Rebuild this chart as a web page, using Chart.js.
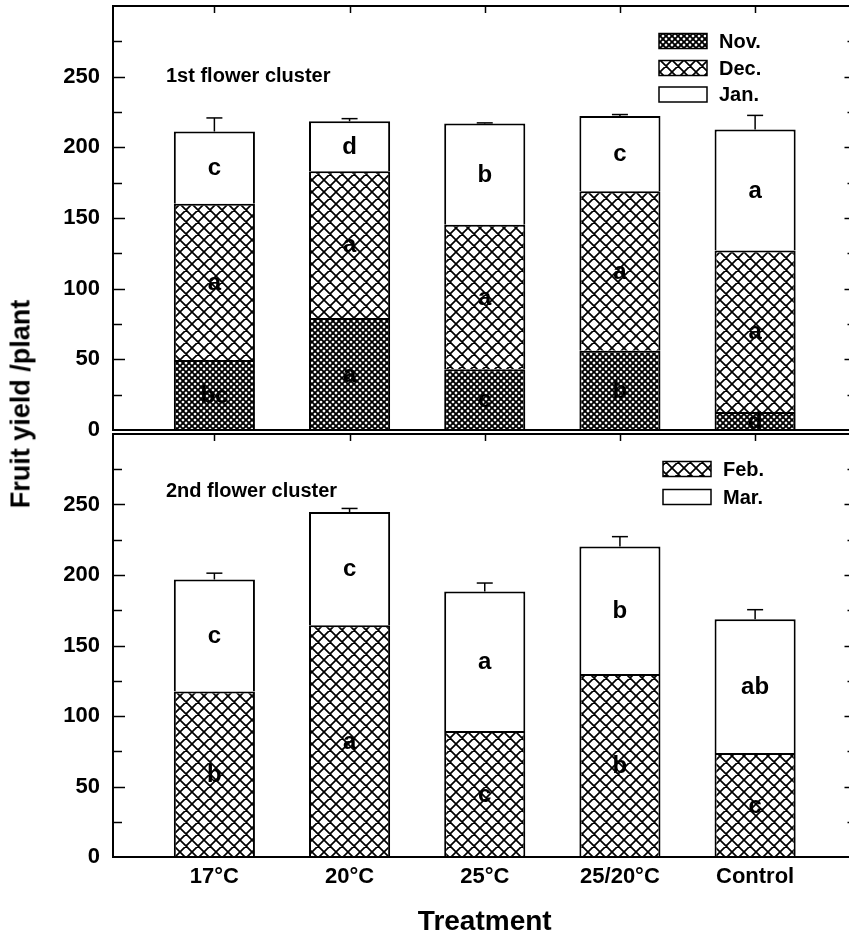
<!DOCTYPE html>
<html>
<head>
<meta charset="utf-8">
<script src="https://cdn.jsdelivr.net/npm/chart.js@4.4.0/dist/chart.umd.min.js"></script>
<style>
  html, body { margin: 0; padding: 0; background: #fff; overflow: hidden; }
  #wrap { position: relative; width: 849px; height: 935px; overflow: hidden; }
  #wrap canvas { position: absolute; left: 0; }
  #ytitle {
    position: absolute; left: 21px; top: 404px;
    transform: translate(-50%, -50%) rotate(-90deg);
    font: bold 27px "Liberation Sans", Arial, sans-serif;
    line-height: 1; white-space: nowrap;
  }
</style>
</head>
<body>
<div id="wrap">
  <canvas id="top" width="870" height="452" style="top:0"></canvas>
  <canvas id="bot" width="870" height="515" style="top:420px"></canvas>
  <div id="ytitle">Fruit yield /plant</div>
</div>
<script>
const treatments = ["17\u00B0C", "20\u00B0C", "25\u00B0C", "25/20\u00B0C", "Control"];

// 1st flower cluster
const nov = [49.5, 79.3, 43.0, 56.0, 12.7];
const dec = [110.5, 103.7, 102.3, 113.0, 114.3];
const jan = [51.2, 35.4, 71.5, 53.2, 85.6];
const err1 = [9.6, 1.9, 0.5, 1.0, 10.0];
const novLetters = ["bc", "a", "c", "b", "d"];
const decLetters = ["a", "a", "a", "a", "a"];
const janLetters = ["c", "d", "b", "c", "a"];

// 2nd flower cluster
const feb = [117.4, 164.3, 89.3, 129.8, 73.8];
const mar = [79.4, 80.4, 99.0, 90.4, 94.9];
const err2 = [4.5, 2.5, 6.0, 7.0, 6.7];
const febLetters = ["b", "a", "c", "b", "c"];
const marLetters = ["c", "c", "a", "b", "ab"];

const FONT = '"Liberation Sans", Arial, sans-serif';
Chart.defaults.font.family = FONT;
Chart.defaults.font.weight = "bold";
Chart.defaults.color = "#000";

// crosshatch fill
function hatch(p, lw) {
  const c = document.createElement("canvas");
  c.width = c.height = p;
  const g = c.getContext("2d");
  g.fillStyle = "#fff";
  g.fillRect(0, 0, p, p);
  g.strokeStyle = "#000";
  g.lineWidth = lw;
  g.beginPath();
  for (let k = -1; k <= 1; k++) {
    g.moveTo(k * p, 0); g.lineTo(k * p + p, p);
    g.moveTo(k * p + p, 0); g.lineTo(k * p, p);
  }
  g.stroke();
  return g.createPattern(c, "repeat");
}
const fineFill = hatch(6, 1.9);
const wideFill = hatch(12, 1.7);

function series(label, values, fill) {
  return {
    label,
    data: values.map((v, i) => ({ x: i, y: v })),
    backgroundColor: fill,
    borderColor: "#000",
    borderWidth: { left: 2, right: 2, top: 2, bottom: 0 },
    borderSkipped: false,
    barPercentage: 0.6,
    categoryPercentage: 1,
    grouped: false
  };
}

function decor(info) {
  return {
    id: "decor",
    afterDatasetsDraw(chart) {
      const { ctx, chartArea: a, scales: { x, y } } = chart;
      const line = (x1, y1, x2, y2) => { ctx.beginPath(); ctx.moveTo(x1, y1); ctx.lineTo(x2, y2); ctx.stroke(); };
      ctx.save();
      ctx.strokeStyle = "#000";
      ctx.fillStyle = "#000";

      // error bars
      ctx.lineWidth = 1.5;
      const totals = treatments.map((_, i) => info.stack.reduce((s, arr) => s + arr[i], 0));
      totals.forEach((t, i) => {
        const px = x.getPixelForValue(i);
        const y0 = y.getPixelForValue(t);
        const y1 = y.getPixelForValue(t + info.errors[i]);
        line(px, y0, px, y1);
        line(px - 8, y1, px + 8, y1);
      });

      // letters in segments
      ctx.font = "bold 24px " + FONT;
      ctx.textAlign = "center";
      ctx.textBaseline = "middle";
      info.letters.forEach((lets, d) => {
        chart.getDatasetMeta(d).data.forEach((el, i) => {
          ctx.fillText(lets[i], el.x, (el.y + el.base) / 2 + 1);
        });
      });

      // frame
      ctx.lineWidth = 2;
      ctx.strokeRect(a.left, a.top, a.right - a.left, a.bottom - a.top);

      // inward ticks
      ctx.lineWidth = 1.5;
      y.ticks.forEach(t => {
        if (t.value <= 0 || t.value >= 300) return;
        const py = Math.round(y.getPixelForValue(t.value)) + 0.5;
        const len = t.value % 50 === 0 ? 12 : 9;
        line(a.left, py, a.left + len, py);
        line(a.right, py, a.right - len, py);
      });
      x.ticks.forEach(t => {
        const px = Math.round(x.getPixelForValue(t.value)) + 0.5;
        line(px, a.top, px, a.top + 7);
      });

      // panel title
      ctx.textAlign = "left";
      ctx.textBaseline = "alphabetic";
      ctx.font = "bold 20px " + FONT;
      ctx.fillText(info.title, 166, info.titleY);

      // legend
      ctx.font = "bold 20px " + FONT;
      info.legend.forEach(item => {
        ctx.fillStyle = item.fill;
        ctx.fillRect(info.legendX, item.y - 7.5, 48, 15);
        ctx.lineWidth = 1.5;
        ctx.strokeRect(info.legendX, item.y - 7.5, 48, 15);
        ctx.fillStyle = "#000";
        ctx.textBaseline = "middle";
        ctx.fillText(item.label, info.legendX + 60, item.y + 1);
      });

      if (info.xTitle) {
        ctx.textAlign = "center";
        ctx.textBaseline = "alphabetic";
        ctx.font = "bold 28px " + FONT;
        ctx.fillText(info.xTitle, (a.left + a.right) / 2, info.xTitleY);
      }
      ctx.restore();
    }
  };
}

function yAxis() {
  return {
    min: 0,
    max: 300,
    stacked: true,
    grid: { display: false, drawTicks: false },
    border: { display: false },
    ticks: {
      stepSize: 25,
      autoSkip: false,
      padding: 13,
      font: { size: 22, weight: "bold" },
      callback: v => (v % 50 === 0 && v < 300) ? String(v) : ""
    },
    afterFit: s => { s.width = 113; s.paddingTop = 0; s.paddingBottom = 0; }
  };
}

function xAxis(show) {
  return {
    type: "linear",
    min: -0.75,
    max: 4.75,
    offset: false,
    display: show,
    grid: { display: false, drawTicks: false, offset: false },
    border: { display: false },
    afterBuildTicks: s => { s.ticks = treatments.map((_, i) => ({ value: i })); },
    ticks: {
      padding: 7,
      autoSkip: false,
      maxRotation: 0,
      font: { size: 22, weight: "bold" },
      callback: v => treatments[v]
    },
    afterFit: s => {
      if (show) s.height = 78;
      s.paddingLeft = 0; s.paddingRight = 0;
    }
  };
}

function baseOptions(show, padding) {
  return {
    responsive: false,
    animation: false,
    devicePixelRatio: 1,
    layout: { padding },
    plugins: { legend: { display: false }, tooltip: { enabled: false } },
    scales: { x: xAxis(show), y: yAxis() }
  };
}

new Chart(document.getElementById("top"), {
  type: "bar",
  data: {
    datasets: [
      series("Nov.", nov, fineFill),
      series("Dec.", dec, wideFill),
      series("Jan.", jan, "#fff")
    ]
  },
  options: baseOptions(false, { top: 6, bottom: 22, left: 0, right: 13.5 }),
  plugins: [decor({
    stack: [nov, dec, jan],
    errors: err1,
    letters: [novLetters, decLetters, janLetters],
    title: "1st flower cluster",
    titleY: 82,
    legendX: 659,
    legend: [
      { label: "Nov.", fill: fineFill, y: 41 },
      { label: "Dec.", fill: wideFill, y: 68 },
      { label: "Jan.", fill: "#fff", y: 94.5 }
    ]
  })]
});

new Chart(document.getElementById("bot"), {
  type: "bar",
  data: {
    datasets: [
      series("Feb.", feb, wideFill),
      series("Mar.", mar, "#fff")
    ]
  },
  options: baseOptions(true, { top: 14, bottom: 0, left: 0, right: 13.5 }),
  plugins: [decor({
    stack: [feb, mar],
    errors: err2,
    letters: [febLetters, marLetters],
    title: "2nd flower cluster",
    titleY: 77,
    legendX: 663,
    legend: [
      { label: "Feb.", fill: wideFill, y: 49 },
      { label: "Mar.", fill: "#fff", y: 77 }
    ],
    xTitle: "Treatment",
    xTitleY: 510
  })]
});
</script>
</body>
</html>
